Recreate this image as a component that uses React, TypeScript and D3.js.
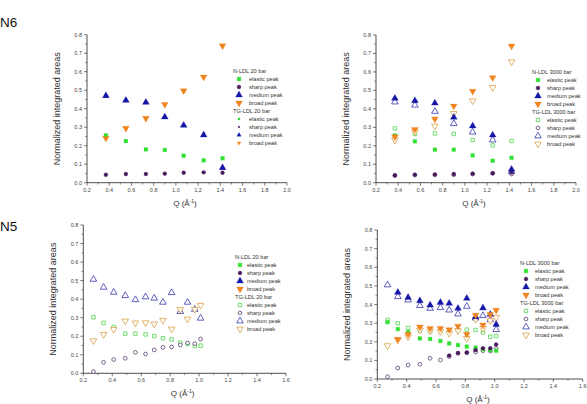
import React from 'react';
import * as d3 from 'd3';

// Q values (Å^-1) for the two samples
const qN6 = [0.37, 0.55, 0.73, 0.9, 1.07, 1.25, 1.42];
const qN5 = [0.27, 0.34, 0.41, 0.49, 0.56, 0.63, 0.69, 0.75, 0.81, 0.87, 0.92, 0.97, 1.01];

// N6, N-LDL 20 bar
const n6N20Elastic = [0.256, 0.225, 0.18, 0.177, 0.146, 0.121, 0.132];
const n6N20Sharp = [0.043, 0.047, 0.047, 0.049, 0.054, 0.056, 0.054];
const n6N20Medium = [0.47, 0.445, 0.434, 0.355, 0.31, 0.258, 0.081];
const n6N20Broad = [0.241, 0.294, 0.348, 0.423, 0.497, 0.571, 0.74];
// N6, TG-LDL 20 bar
const n6T20Elastic = [0.255, 0.224, 0.18, 0.176, 0.146, 0.12, 0.13];
const n6T20Sharp = [0.042, 0.046, 0.047, 0.048, 0.053, 0.055, 0.053];
const n6T20Medium = [0.469, 0.444, 0.433, 0.354, 0.309, 0.257, 0.079];
const n6T20Broad = [0.24, 0.293, 0.347, 0.422, 0.496, 0.57, 0.739];

// N6, N-LDL 3000 bar
const n6N3kElastic = [0.256, 0.224, 0.179, 0.179, 0.148, 0.119, 0.135];
const n6N3kSharp = [0.04, 0.043, 0.045, 0.047, 0.049, 0.051, 0.055];
const n6N3kMedium = [0.457, 0.444, 0.431, 0.354, 0.307, 0.258, 0.072];
const n6N3kBroad = [0.249, 0.289, 0.345, 0.415, 0.495, 0.569, 0.74];
// N6, TG-LDL 3000 bar
const n6T3kElastic = [0.294, 0.264, 0.267, 0.264, 0.231, 0.202, 0.226];
const n6T3kSharp = [0.038, 0.042, 0.042, 0.043, 0.047, 0.051, 0.047];
const n6T3kMedium = [0.437, 0.42, 0.386, 0.32, 0.274, 0.231, 0.06];
const n6T3kBroad = [0.231, 0.276, 0.307, 0.375, 0.444, 0.516, 0.655];

// N5, TG-LDL 20 bar
const n5T20Elastic = [0.302, 0.272, 0.25, 0.214, 0.214, 0.21, 0.201, 0.189, 0.183, 0.165, 0.158, 0.147, 0.149];
const n5T20Sharp = [0.009, 0.059, 0.074, 0.081, 0.113, 0.104, 0.126, 0.14, 0.142, 0.153, 0.164, 0.16, 0.185];
const n5T20Medium = [0.507, 0.464, 0.437, 0.419, 0.397, 0.412, 0.405, 0.383, 0.435, 0.333, 0.383, 0.345, 0.297];
const n5T20Broad = [0.176, 0.21, 0.237, 0.282, 0.272, 0.273, 0.266, 0.286, 0.239, 0.344, 0.293, 0.345, 0.367];

// N5, N-LDL 3000 bar (gaps where no value was measured)
const n5N3kElastic = [0.305, 0.268, 0.252, 0.218, 0.215, 0.204, 0.191, 0.182, 0.174, 0.168, 0.16, 0.155, 0.152];
const n5N3kSharp = [null, null, null, null, null, null, 0.126, 0.14, 0.142, 0.155, 0.165, 0.165, 0.185];
const n5N3kMedium = [null, 0.465, 0.438, 0.42, 0.397, 0.411, 0.406, 0.379, 0.433, 0.333, 0.381, 0.347, 0.293];
const n5N3kBroad = [null, 0.213, 0.24, 0.279, 0.272, 0.272, 0.265, 0.284, 0.24, 0.343, 0.29, 0.347, 0.369];
// N5, TG-LDL 3000 bar
const n5T3kElastic = [0.317, 0.299, 0.274, 0.26, 0.256, 0.256, 0.262, 0.263, 0.265, 0.263, 0.25, 0.227, 0.231];
const n5T3kSharp = [0.012, 0.059, 0.075, 0.079, 0.111, 0.102, 0.12, 0.138, 0.141, 0.145, 0.152, 0.15, 0.163];
const n5T3kMedium = [0.505, 0.442, 0.424, 0.394, 0.379, 0.383, 0.37, 0.349, 0.39, 0.327, 0.34, 0.318, 0.265];
const n5T3kBroad = [0.179, 0.21, 0.227, 0.263, 0.258, 0.254, 0.245, 0.26, 0.218, 0.32, 0.272, 0.313, 0.331];

const peakNames = ['elastic peak', 'sharp peak', 'medium peak', 'broad peak'];

const FONT = 'Liberation Sans, Arial, sans-serif';

type Mk = { shape: string; fill: boolean; color: string; size: number };

const filled: Mk[] = [
  { shape: 'square', fill: true, color: '#33e033', size: 14 },
  { shape: 'circle', fill: true, color: '#4a1a5e', size: 12 },
  { shape: 'triangle', fill: true, color: '#1616a8', size: 20 },
  { shape: 'down', fill: true, color: '#f08420', size: 20 },
];
const open: Mk[] = [
  { shape: 'square', fill: false, color: '#4fd64f', size: 12 },
  { shape: 'circle', fill: false, color: '#5a3d6e', size: 11 },
  { shape: 'triangle', fill: false, color: '#3838b0', size: 19 },
  { shape: 'down', fill: false, color: '#dca048', size: 19 },
];
const tiny: Mk[] = [
  { shape: 'square', fill: true, color: '#33e033', size: 4 },
  { shape: 'circle', fill: true, color: '#4a1a5e', size: 2.5 },
  { shape: 'triangle', fill: true, color: '#1616a8', size: 8 },
  { shape: 'down', fill: true, color: '#f08420', size: 6 },
];

const symbols: Record<string, d3.SymbolType> = {
  square: d3.symbolSquare,
  circle: d3.symbolCircle,
  triangle: d3.symbolTriangle,
  down: d3.symbolTriangle,
};

const Marker = ({ x, y, m }: { x: number; y: number; m: Mk }) => {
  const d = d3.symbol(symbols[m.shape], m.size)() || '';
  return (
    <path
      d={d}
      transform={`translate(${x},${y}) rotate(${m.shape === 'down' ? 180 : 0})`}
      fill={m.fill ? m.color : '#fff'}
      stroke={m.color}
      strokeWidth={m.fill ? 0.3 : 0.8}
    />
  );
};

type Group = { title: string; marks: Mk[]; values: (number | null)[][] | null };

type PanelDef = {
  left: number;
  right: number;
  top: number;
  bottom: number;
  xMax: number;
  q: number[];
  groups: Group[];
  legend: { x: number; y: number; mdx: number; tdx: number };
};

const panels: PanelDef[] = [
  {
    left: 87, right: 287, top: 34.7, bottom: 182.7, xMax: 2.0, q: qN6,
    groups: [
      { title: 'N-LDL 20 bar', marks: filled, values: [n6N20Elastic, n6N20Sharp, n6N20Medium, n6N20Broad] },
      { title: 'TG-LDL 20 bar', marks: tiny, values: [n6T20Elastic, n6T20Sharp, n6T20Medium, n6T20Broad] },
    ],
    legend: { x: 233, y: 71, mdx: 6, tdx: 16 },
  },
  {
    left: 376, right: 576, top: 35, bottom: 182.7, xMax: 2.0, q: qN6,
    groups: [
      { title: 'TG-LDL 3000 bar', marks: open, values: [n6T3kElastic, n6T3kSharp, n6T3kMedium, n6T3kBroad] },
      { title: 'N-LDL 3000 bar', marks: filled, values: [n6N3kElastic, n6N3kSharp, n6N3kMedium, n6N3kBroad] },
    ],
    legend: { x: 532, y: 72, mdx: 6, tdx: 15 },
  },
  {
    left: 83.3, right: 286, top: 225, bottom: 373.3, xMax: 1.6, q: qN5,
    groups: [
      { title: 'N-LDL 20 bar', marks: filled, values: null },
      { title: 'TG-LDL 20 bar', marks: open, values: [n5T20Elastic, n5T20Sharp, n5T20Medium, n5T20Broad] },
    ],
    legend: { x: 235, y: 257, mdx: 5, tdx: 12 },
  },
  {
    left: 377.3, right: 582.7, top: 230, bottom: 379, xMax: 1.6, q: qN5,
    groups: [
      { title: 'TG-LDL 3000 bar', marks: open, values: [n5T3kElastic, n5T3kSharp, n5T3kMedium, n5T3kBroad] },
      { title: 'N-LDL 3000 bar', marks: filled, values: [n5N3kElastic, n5N3kSharp, n5N3kMedium, n5N3kBroad] },
    ],
    legend: { x: 520, y: 263, mdx: 6, tdx: 15 },
  },
];

const Panel = ({ p }: { p: PanelDef }) => {
  const x = d3.scaleLinear().domain([0.2, p.xMax]).range([p.left, p.right]);
  const y = d3.scaleLinear().domain([0, 0.8]).range([p.bottom, p.top]);
  const fmt = d3.format('.1f');
  const xMajor = d3.range(0.2, p.xMax + 1e-6, 0.2);
  const xMinor = d3.range(0.3, p.xMax, 0.2);
  const yMajor = d3.range(0, 0.8 + 1e-6, 0.1);
  const yMinor = d3.range(0.05, 0.8, 0.1);

  // legend is listed N-LDL first, TG-LDL second
  const legendGroups = [...p.groups].sort((a, b) => (a.title < b.title ? -1 : 1));
  const L = p.legend;

  return (
    <g fontFamily={FONT}>
      <line x1={p.left} x2={p.right} y1={p.bottom} y2={p.bottom} stroke="#222" strokeWidth={0.8} />
      <line x1={p.left} x2={p.left} y1={p.top} y2={p.bottom} stroke="#222" strokeWidth={0.8} />
      {xMajor.map((t) => (
        <g key={'xm' + t}>
          <line x1={x(t)} x2={x(t)} y1={p.bottom} y2={p.bottom + 3} stroke="#222" strokeWidth={0.6} />
          <text x={x(t)} y={p.bottom + 9} fontSize={5.5} fill="#444" textAnchor="middle">{fmt(t)}</text>
        </g>
      ))}
      {xMinor.map((t) => (
        <line key={'xn' + t} x1={x(t)} x2={x(t)} y1={p.bottom} y2={p.bottom + 1.8} stroke="#222" strokeWidth={0.5} />
      ))}
      {yMajor.map((t) => (
        <g key={'ym' + t}>
          <line x1={p.left - 3} x2={p.left} y1={y(t)} y2={y(t)} stroke="#222" strokeWidth={0.6} />
          <text x={p.left - 5} y={y(t)} fontSize={5.5} fill="#444" textAnchor="end" dominantBaseline="central">{fmt(t)}</text>
        </g>
      ))}
      {yMinor.map((t) => (
        <line key={'yn' + t} x1={p.left - 1.8} x2={p.left} y1={y(t)} y2={y(t)} stroke="#222" strokeWidth={0.5} />
      ))}

      <text
        transform={`translate(${p.left - 30},${(p.top + p.bottom) / 2}) rotate(-90)`}
        fontSize={9}
        fill="#333"
        textAnchor="middle"
        dominantBaseline="central"
      >
        Normalized integrated areas
      </text>
      <text x={(p.left + p.right) / 2 - 2} y={p.bottom + 23} fontSize={8} fill="#333" textAnchor="middle">
        Q (Å<tspan dy={-3} fontSize={5}>-1</tspan><tspan dy={3}>)</tspan>
      </text>

      {p.groups.map((g, gi) =>
        g.values
          ? g.values.map((vals, si) =>
              vals.map((v, i) =>
                v == null ? null : <Marker key={`${gi}-${si}-${i}`} x={x(p.q[i])} y={y(v)} m={g.marks[si]} />
              )
            )
          : null
      )}

      {legendGroups.map((g, gi) => {
        const gy = L.y + gi * 40;
        return (
          <g key={'lg' + gi}>
            <text x={L.x} y={gy} fontSize={5.6} fill="#333" dominantBaseline="central">{g.title}</text>
            {peakNames.map((name, i) => (
              <g key={name}>
                <Marker x={L.x + L.mdx} y={gy + 8 * (i + 1)} m={g.marks[i]} />
                <text x={L.x + L.tdx} y={gy + 8 * (i + 1)} fontSize={5.6} fill="#333" dominantBaseline="central">
                  {name}
                </text>
              </g>
            ))}
          </g>
        );
      })}
    </g>
  );
};

export default function App() {
  return (
    <svg
      width={587}
      height={404}
      style={{ position: 'absolute', left: 0, top: 0, background: '#fff' }}
    >
      <rect width={587} height={404} fill="#fff" />
      <text x={0} y={27} fontFamily={FONT} fontSize={13.5} fill="#111">N6</text>
      <text x={0} y={231} fontFamily={FONT} fontSize={13.5} fill="#111">N5</text>
      {panels.map((p, i) => (
        <Panel key={i} p={p} />
      ))}
    </svg>
  );
}
